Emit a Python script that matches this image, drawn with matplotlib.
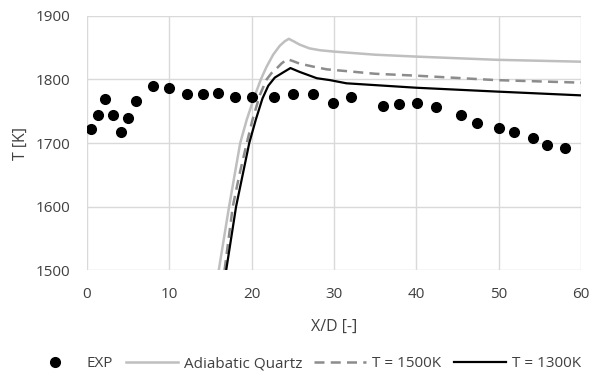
import matplotlib
matplotlib.use('Agg')
import matplotlib.pyplot as plt

plt.rcParams['font.family'] = ['Open Sans', 'DejaVu Sans']

# experimental points
exp_x = [0.5, 1.3, 2.2, 3.1, 4.1, 5.0, 6.0, 8.0, 10.0, 12.1, 14.1, 15.9, 18.0, 20.0,
         22.7, 25.0, 27.4, 29.9, 32.0, 35.9, 37.9, 40.1, 42.4, 45.4, 47.3, 50.0,
         51.9, 54.1, 55.9, 58.0]
exp_t = [1722, 1744, 1769, 1744, 1718, 1739, 1766, 1789, 1786, 1777, 1777, 1779, 1773, 1773,
         1773, 1777, 1777, 1763, 1772, 1759, 1762, 1763, 1756, 1744, 1731, 1724,
         1718, 1708, 1697, 1692]

# simulations
adi_x = [16.0, 17.25, 18.6, 19.4, 20.3, 21.1, 21.8, 22.6, 23.4, 24.0, 24.5, 25.1, 25.8,
         27.0, 28.3, 29.9, 35.0, 40.0, 49.7, 60.0]
adi_t = [1500, 1600, 1700, 1737, 1772, 1800, 1820, 1839, 1853, 1860, 1864, 1860, 1855,
         1849, 1846, 1844, 1839, 1836, 1831, 1828]

t1500_x = [16.7, 17.7, 18.5, 19.4, 20.1, 21.0, 21.8, 22.4, 23.0, 23.6, 24.3, 25.0, 25.8,
           27.9, 29.1, 35.0, 40.0, 49.7, 60.0]
t1500_t = [1500, 1600, 1650, 1700, 1737, 1776, 1800, 1810, 1817, 1825, 1832, 1829, 1825,
           1819, 1816, 1809, 1806, 1799, 1795]

t1300_x = [16.9, 18.1, 18.9, 19.7, 20.5, 21.3, 22.0, 22.8, 23.8, 24.7, 25.8, 27.9, 29.5,
           31.5, 40.0, 49.7, 60.0]
t1300_t = [1500, 1600, 1650, 1700, 1737, 1770, 1790, 1803, 1811, 1818, 1812, 1802, 1799,
           1794, 1787, 1781, 1775]

fig = plt.figure(figsize=(5.9, 3.71), dpi=100)
ax = fig.add_axes([0.1475, 0.272, 0.8375, 0.685])

ax.plot(exp_x, exp_t, 'o', color='black', ms=7, label='EXP', zorder=5)
ax.plot(adi_x, adi_t, color='#bfbfbf', lw=1.8, label='Adiabatic Quartz')
ax.plot(t1500_x, t1500_t, color='#8c8c8c', lw=1.8, ls=(0, (4, 2.5)), label='T = 1500K')
ax.plot(t1300_x, t1300_t, color='black', lw=1.6, label='T = 1300K')

ax.set_xlim(0, 60)
ax.set_ylim(1500, 1900)
ax.set_xticks(range(0, 61, 10))
ax.set_yticks(range(1500, 1901, 100))
ax.grid(True, color='#d9d9d9', lw=1)
ax.set_axisbelow(True)
for s in ax.spines.values():
    s.set_visible(False)
ax.tick_params(length=0, labelsize=11, colors='#404040')
ax.tick_params(axis='x', pad=12)
ax.tick_params(axis='y', pad=12)
ax.set_xlabel('X/D [-]', fontsize=11.5, color='#404040', labelpad=12)
ax.set_ylabel('T [K]', fontsize=11.5, color='#404040', labelpad=5)

ax.legend(loc='upper center', bbox_to_anchor=(0.441, -0.285), ncol=4, frameon=False,
          fontsize=11, handlelength=3.4, columnspacing=0.8, handletextpad=0.4,
          labelcolor='#404040')

fig.savefig('out.png', dpi=100)
